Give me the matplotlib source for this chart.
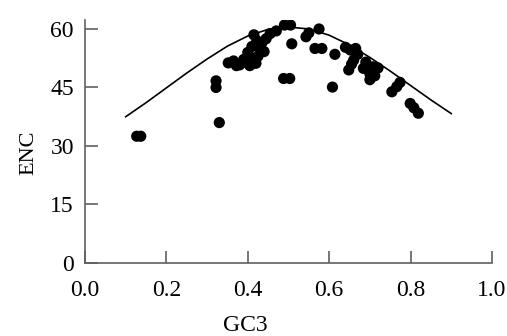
import matplotlib
matplotlib.use("Agg")
import matplotlib.pyplot as plt

# Expected ENC curve
curve_gc3 = [0.10, 0.15, 0.20, 0.25, 0.30, 0.35, 0.40, 0.45, 0.50, 0.55, 0.60, 0.65, 0.70, 0.75, 0.80, 0.85, 0.90]
curve_enc = [37.5, 41.1, 44.9, 48.7, 52.3, 55.6, 58.2, 59.9, 60.5, 60.0, 58.4, 55.9, 52.7, 49.2, 45.5, 41.8, 38.3]

# Observed genes
gc3 = [0.127, 0.137, 0.322, 0.322, 0.330,
       0.352, 0.365, 0.380, 0.395, 0.405, 0.415, 0.400, 0.410, 0.422, 0.415,
       0.430, 0.435, 0.445, 0.455, 0.470, 0.425, 0.372, 0.390, 0.420, 0.440,
       0.490, 0.505, 0.508, 0.488, 0.503, 0.543, 0.550, 0.575, 0.565, 0.582,
       0.608, 0.614,
       0.640, 0.652, 0.660, 0.648, 0.655, 0.670, 0.684, 0.708, 0.700, 0.700,
       0.720, 0.665, 0.690, 0.712,
       0.774, 0.766, 0.754, 0.799, 0.808, 0.819]
enc = [32.5, 32.5, 46.7, 45.0, 36.0,
       51.3, 51.8, 50.8, 51.5, 50.6, 52.5, 54.0, 55.5, 57.0, 58.5,
       55.0, 56.5, 57.5, 58.8, 59.5, 53.0, 50.6, 52.2, 51.2, 54.2,
       61.0, 61.0, 56.2, 47.3, 47.3, 58.0, 59.0, 60.0, 55.0, 55.0,
       45.1, 53.5,
       55.3, 54.6, 52.0, 49.5, 51.0, 53.5, 49.9, 50.3, 47.0, 48.5,
       50.0, 55.0, 51.5, 48.0,
       46.3, 45.2, 43.9, 40.9, 39.8, 38.4]

xticks = [0.0, 0.2, 0.4, 0.6, 0.8, 1.0]
yticks = [0, 15, 30, 45, 60]

plt.rcParams['font.family'] = ['Liberation Serif', 'DejaVu Serif']

fig = plt.figure(figsize=(5.07, 3.36), dpi=100)
ax = fig.add_axes([85/507, 1-263/336, 407/507, 243/336])

ax.plot(curve_gc3, curve_enc, color='black', lw=1.2)
ax.scatter(gc3, enc, s=65, color='black', edgecolors='none', zorder=3)

ax.set_xlim(0, 1.0)
ax.set_ylim(0, 62.3)
ax.set_xticks(xticks)
ax.set_xticklabels([f"{t:.1f}" for t in xticks])
ax.set_yticks(yticks)
ax.set_yticklabels([str(t) for t in yticks])

for s in ['top', 'right']:
    ax.spines[s].set_visible(False)
for s in ['left', 'bottom']:
    ax.spines[s].set_color('#606060')
    ax.spines[s].set_linewidth(1.2)

ax.tick_params(direction='in', length=9, width=1.2, color='#606060', labelsize=17)
ax.tick_params(axis='y', pad=8)
ax.tick_params(axis='x', pad=12)
ax.set_xlabel('GC3', fontsize=17)
ax.set_ylabel('ENC', fontsize=16)
ax.xaxis.set_label_coords((245.5-85)/407, (263-315)/243)
ax.yaxis.set_label_coords(-(85-38)/407, (263-153)/243)

fig.savefig('out.png', dpi=100)
